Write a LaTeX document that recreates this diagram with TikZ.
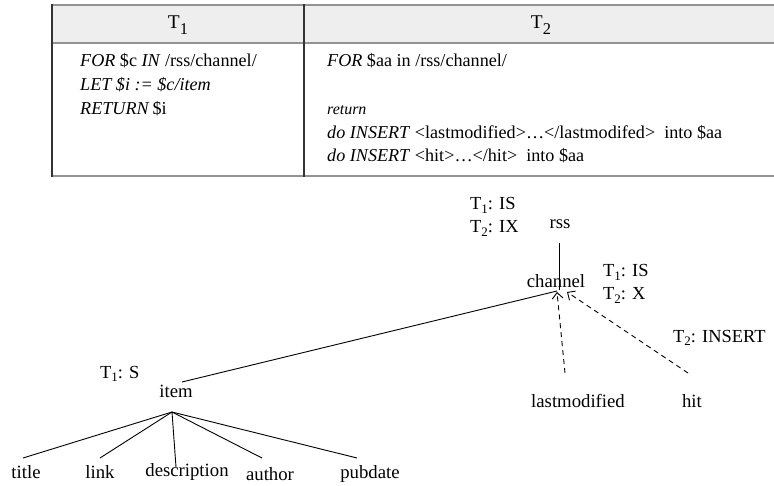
\documentclass[tikz,border=0pt]{standalone}
\usepackage{fontspec}
\setmainfont{Liberation Serif}
\usetikzlibrary{arrows.meta,calc}

% lowered digit used in the table header (T1, T2)
\newcommand{\hdsub}[1]{\raisebox{-6bp}{\fontsize{16.5}{16.5}\selectfont #1}}
% lowered digit used in the lock labels of the tree
\newcommand{\lksub}[1]{\raisebox{-3.5bp}{\fontsize{13}{13}\selectfont #1}}

\begin{document}
\begin{tikzpicture}[x=1bp,y=-1bp,
  every node/.style={inner sep=0pt},
  head/.style={anchor=base,font=\fontsize{19.5}{22}\selectfont},
  code/.style={anchor=base west,font=\fontsize{18.2}{20}\selectfont},
  elem/.style={anchor=base,font=\fontsize{18.8}{20}\selectfont},
  lock/.style={anchor=base west,font=\fontsize{18.5}{20}\selectfont},
  rule/.style={gray!85,line width=2.5bp},
  sep/.style={black!80,line width=1.4bp},
  edge/.style={black,line width=0.9bp},
  ins/.style={black,line width=0.9bp,dash pattern=on 5bp off 4bp,
              -{Straight Barb[length=6bp,width=11bp,line width=0.9bp]}}]
\useasboundingbox (0,0) rectangle (774,486);

% ---- table of the two transactions ----
\fill[gray!13] (52,5) rectangle (774,43);
\draw[rule] (52,5) -- (774,5);
\draw[rule] (52,43) -- (774,43);
\draw[rule] (52,176) -- (774,176);
\draw[sep] (52,4) -- (52,177);
\draw[sep] (304,4) -- (304,177);

\node[head] (h1) at (178,29) {T\hdsub{1}};
\node[head] (h2) at (541,29) {T\hdsub{2}};

\node[code] (a1) at (80,67)  {\textit{FOR} \$c \textit{IN} /rss/channel/};
\node[code] (a2) at (80,91)  {\textit{LET \$i := \$c/item}};
\node[code] (a3) at (80,115) {\textit{RETURN}\,\$i};

\node[code] (b1) at (327,67)  {\textit{FOR} \$aa in /rss/channel/};
\node[code,font=\fontsize{16}{18}\selectfont] (b2) at (327,115) {\textit{return}};
\node[code] (b3) at (327,139) {\textit{do INSERT} <lastmodified>…</lastmodifed>~ into \$aa};
\node[code] (b4) at (327,162) {\textit{do INSERT} <hit>…</hit>~ into \$aa};

% ---- document tree ----
\node[elem] (rss)         at (560,229) {rss};
\node[elem] (channel)     at (556,288) {channel};
\node[elem] (item)        at (176,397) {item};
\node[elem] (title)       at (26,478)  {title};
\node[elem] (link)        at (100,478) {link};
\node[elem] (description) at (187,476) {description};
\node[elem] (author)      at (270,480) {author};
\node[elem] (pubdate)     at (370,478) {pubdate};
\node[elem] (lastmod)     at (578,407) {lastmodified};
\node[elem] (hit)         at (692,407) {hit};

% lock modes held by the transactions
\node[lock] (lkrss1)  at (470,210) {T\lksub{1}: IS};
\node[lock] (lkrss2)  at (470,233) {T\lksub{2}: IX};
\node[lock] (lkchan1) at (603,277) {T\lksub{1}: IS};
\node[lock] (lkchan2) at (603,300) {T\lksub{2}: X};
\node[lock] (lkins)   at (673,342) {T\lksub{2}: INSERT};
\node[lock] (lkitem)  at (100,378) {T\lksub{1}: S};

% edges of the tree
\draw[edge] ($(rss.base)+(-1,14)$) -- ($(channel.base)+(3,2)$);
\draw[edge] ($(item.base)+(6,-15)$) -- ($(channel.base)+(1,3)$);
\draw[edge] ($(item.base)+(-4,15)$) -- ($(title.base)+(-3,-20)$);
\draw[edge] ($(item.base)+(-4,15)$) -- ($(link.base)+(0,-20)$);
\draw[edge] ($(item.base)+(-4,15)$) -- ($(description.base)+(-11,-9)$);
\draw[edge] ($(item.base)+(-4,15)$) -- ($(author.base)+(-8,-22)$);
\draw[edge] ($(item.base)+(-4,15)$) -- ($(pubdate.base)+(-13,-20)$);

% elements inserted by T2
\draw[ins] ($(lastmod.base)+(-13,-34)$) -- ($(channel.base)+(1,4)$);
\draw[ins] ($(hit.base)+(-4,-34)$) -- ($(channel.base)+(11,4)$);
\end{tikzpicture}
\end{document}
